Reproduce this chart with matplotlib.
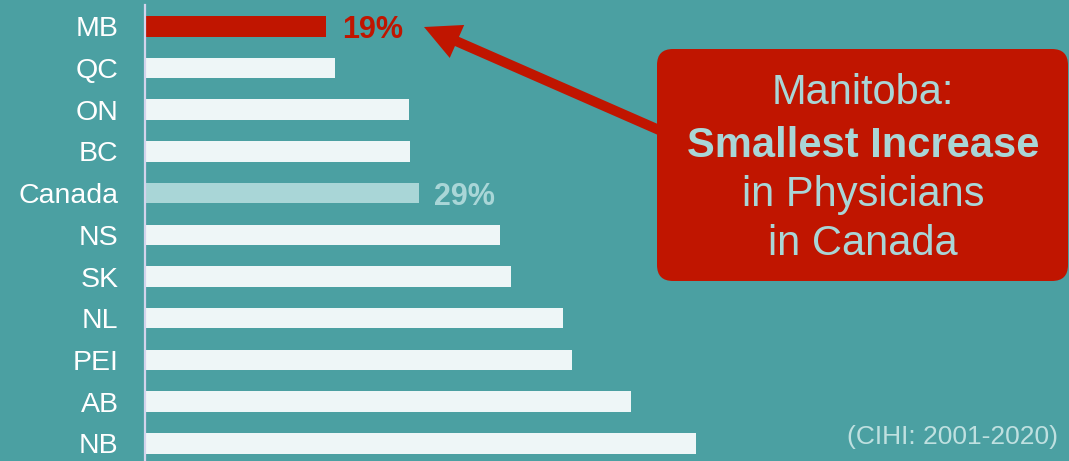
import matplotlib.pyplot as plt
from matplotlib.patches import FancyBboxPatch, FancyArrow
import numpy as np

plt.rcParams['font.family'] = ['Liberation Sans', 'DejaVu Sans']

provinces = ['MB', 'QC', 'ON', 'BC', 'Canada', 'NS', 'SK', 'NL', 'PEI', 'AB', 'NB']
increase = [19, 19.9, 27.6, 27.7, 28.7, 37.2, 38.3, 43.8, 44.7, 50.9, 57.7]
labelled = {'MB': '19%', 'Canada': '29%'}

bg = '#4BA0A2'
bar_col = '#EEF6F7'
red = '#C01500'
light = '#A9D6D7'

W, H = 1069, 461
fig = plt.figure(figsize=(W / 100, H / 100), dpi=100, facecolor=bg)

# main bar axes, left edge at the vertical axis line
ax = fig.add_axes([145 / W, 0, (W - 145) / W, 1])
ax.set_facecolor(bg)

colors = []
for p in provinces:
    if p == 'MB':
        colors.append(red)
    elif p == 'Canada':
        colors.append(light)
    else:
        colors.append(bar_col)

y = np.arange(len(provinces))
ax.barh(y, increase, height=0.49, color=colors, edgecolor='none')

for i, p in enumerate(provinces):
    if p in labelled:
        ax.text(increase[i] + 1.6, i + 0.1, labelled[p], ha='left', va='center',
                fontsize=22, fontweight='bold', color=colors[i])

ax.set_xlim(0, (W - 145) / 9.55)
ax.set_ylim((H - 26.3) / 41.7, -26.3 / 41.7)
ax.set_yticks(y)
ax.set_yticklabels(provinces, fontsize=20.5, color='white')
ax.tick_params(axis='y', length=0, pad=19)
ax.set_xticks([])
for s in ['top', 'right', 'bottom']:
    ax.spines[s].set_visible(False)
ax.spines['left'].set_color('#D4D4EC')
ax.spines['left'].set_linewidth(1.6)
ax.spines['left'].set_bounds(-0.51, (H - 26.3) / 41.7)

# overlay in pixel units for the callout
ov = fig.add_axes([0, 0, 1, 1])
ov.set_xlim(0, W)
ov.set_ylim(H, 0)
ov.axis('off')

ov.add_patch(FancyArrow(675, 137, 424 - 675, 27 - 137, width=10,
                        head_width=36, head_length=36,
                        length_includes_head=True, color=red, lw=0))
ov.add_patch(FancyBboxPatch((657, 49), 411, 232,
                            boxstyle='round,pad=0,rounding_size=16',
                            facecolor=red, edgecolor='none'))

ov.text(863, 93, 'Manitoba:', ha='center', va='center', fontsize=30, color=light)
ov.text(863, 146, 'Smallest Increase', ha='center', va='center', fontsize=30,
        fontweight='bold', color=light)
ov.text(863, 195, 'in Physicians', ha='center', va='center', fontsize=30, color=light)
ov.text(863, 244, 'in Canada', ha='center', va='center', fontsize=30, color=light)

ov.text(1058, 437, '(CIHI: 2001-2020)', ha='right', va='center', fontsize=19,
        color='#BFE0E0')

fig.savefig('out.png', dpi=100, facecolor=bg)
